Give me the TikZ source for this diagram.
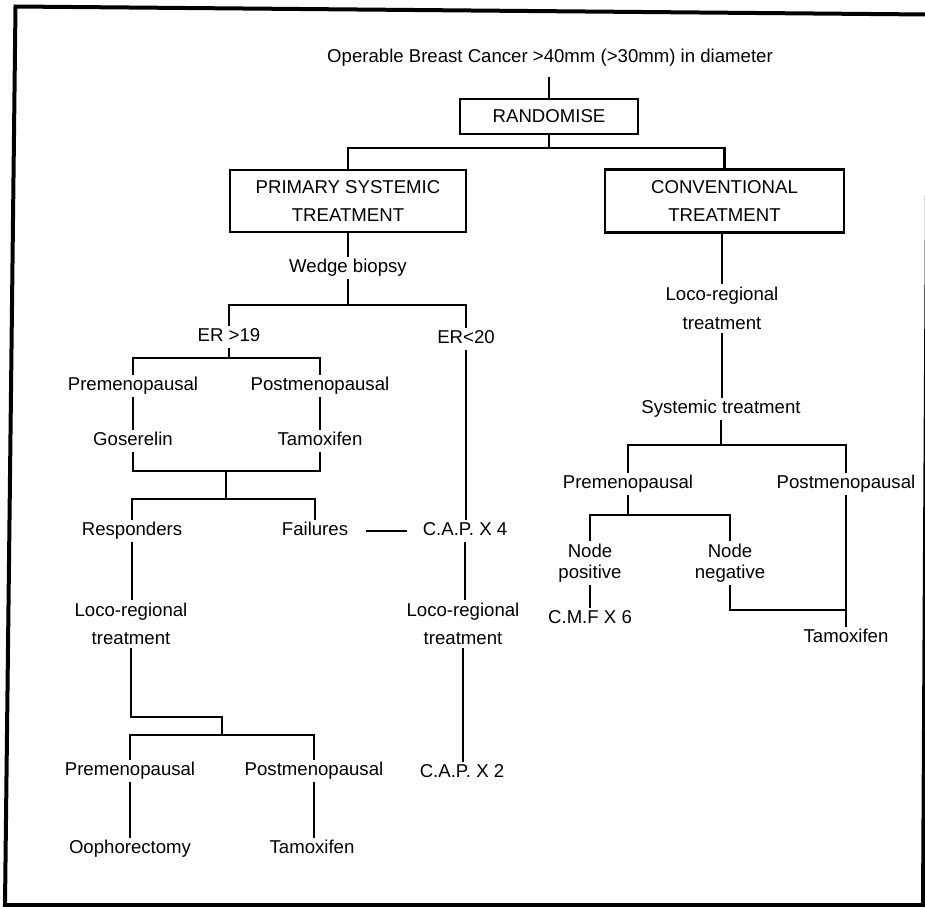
\documentclass[tikz,border=0pt]{standalone}
\usepackage{fontspec}
\setmainfont{Liberation Sans}
\usetikzlibrary{positioning}
\newcommand\chartfont{\fontsize{18.6pt}{28.5pt}\selectfont}
\newcommand\tightfont{\fontsize{18.6pt}{21pt}\selectfont}
\tikzset{
  lbl/.style={font=\chartfont,inner xsep=2pt,inner ysep=3.5pt,text height=13.5pt,text depth=4pt},
  lbltwo/.style={font=\chartfont,inner xsep=2pt,inner ysep=4pt,align=center},
  boxed/.style={font=\chartfont,draw,line width=2.2pt,align=center,inner sep=2pt},
  conn/.style={line width=2.2pt}
}
\begin{document}
\begin{tikzpicture}[x=1pt,y=-1pt,line cap=rect]
    \useasboundingbox (0,0) rectangle (925,906);
    \begin{scope}
        \clip (0,0) rectangle (925,906);
        \draw[line width=4pt,line join=miter] (15.5,6.5) -- (928,14.5) -- (923,905) -- (5,905) -- cycle;
    \end{scope}

    \node[lbl] (title) at (550,58) {Operable Breast Cancer >40mm (>30mm) in diameter};
    \node[boxed,minimum width=178pt,minimum height=35pt] (rand) at (549,116.5) {RANDOMISE};
    \node[boxed,minimum width=236pt,minimum height=62pt] (pst) at (348,201) {PRIMARY SYSTEMIC\\TREATMENT};
    \node[boxed,minimum width=239pt,minimum height=63pt] (conv) at (724.5,201) {CONVENTIONAL\\TREATMENT};

    \node[lbl] (wedge) at (348,268) {Wedge biopsy};
    \node[lbl] (er19) at (229,337) {ER >19};
    \node[lbl] (er20) at (466,339) {ER<20};
    \node[lbl] (pre1) at (133,386) {Premenopausal};
    \node[lbl] (post1) at (320,386) {Postmenopausal};
    \node[lbl] (gos) at (133,441) {Goserelin};
    \node[lbl] (tam1) at (320,441) {Tamoxifen};
    \node[lbl] (resp) at (132,531) {Responders};
    \node[lbl] (fail) at (315,531) {Failures};
    \node[lbl] (cap4) at (465,531) {C.A.P. X 4};
    \node[lbltwo] (loco1) at (131,624) {Loco-regional\\treatment};
    \node[lbltwo] (loco2) at (463,624) {Loco-regional\\treatment};
    \node[lbl] (cap2) at (462,773) {C.A.P. X 2};
    \node[lbl] (pre2) at (130,771) {Premenopausal};
    \node[lbl] (post2) at (314,771) {Postmenopausal};
    \node[lbl] (ooph) at (130,849) {Oophorectomy};
    \node[lbl] (tam2) at (312,849) {Tamoxifen};

    \node[lbltwo] (loco3) at (722,308.5) {Loco-regional\\treatment};
    \node[lbl] (syst) at (721,409) {Systemic treatment};
    \node[lbl] (pre3) at (628,484) {Premenopausal};
    \node[lbl] (post3) at (846,484) {Postmenopausal};
    \node[lbltwo,font=\tightfont] (npos) at (590,563) {Node\\positive};
    \node[lbltwo,font=\tightfont] (nneg) at (730,563) {Node\\negative};
    \node[lbl] (cmf) at (590,619) {C.M.F X 6};
    \node[lbl] (tam3) at (846,638) {Tamoxifen};

    \coordinate (jr) at (549,148);
    \coordinate (jw) at (348,305);
    \coordinate (je) at (229,358);
    \coordinate (jg) at (226,471);
    \coordinate (jf) at (226,499);
    \coordinate (jl) at (222,717);
    \coordinate (jm) at (222,735);
    \coordinate (js) at (721,445);
    \coordinate (jp) at (628,515);
    \coordinate (jn) at (846,610);

    \draw[conn,shorten <=8pt] (rand.north |- title.south) -- (rand.north);
    \draw[conn] (rand.south) -- (jr);
    \draw[conn] (pst.north) |- (jr) -| (conv.north);
    \draw[conn] (pst.south) -- (wedge.north);
    \draw[conn] (wedge.south) -- (jw);
    \draw[conn] (er19.north) |- (jw) -| (er20.north);
    \draw[conn] (er19.south) -- (je);
    \draw[conn] (pre1.north) |- (je) -| (post1.north);
    \draw[conn] (pre1.south) -- (gos.north);
    \draw[conn] (post1.south) -- (tam1.north);
    \draw[conn] (gos.south) |- (jg) -| (tam1.south);
    \draw[conn] (jg) -- (jf);
    \draw[conn] (resp.north) |- (jf) -| (fail.north);
    \draw[conn,shorten <=17pt,shorten >=15pt] (fail.east) -- (cap4.west);
    \draw[conn] (er20.south) -- (er20.south |- cap4.north);
    \draw[conn] (resp.south) -- (resp.south |- loco1.north);
    \draw[conn] (cap4.south) -- (cap4.south |- loco2.north);
    \draw[conn] (loco1.south) |- (jl) -- (jm);
    \draw[conn] (pre2.north) |- (jm) -| (post2.north);
    \draw[conn] (loco2.south) -- (loco2.south |- cap2.north);
    \draw[conn] (pre2.south) -- (pre2.south |- ooph.north);
    \draw[conn] (post2.south) -- (post2.south |- tam2.north);

    \draw[conn] (loco3.north |- conv.south) -- (loco3.north);
    \draw[conn] (loco3.south) -- (loco3.south |- syst.north);
    \draw[conn] (syst.south) -- (js);
    \draw[conn] (pre3.north) |- (js) -| (post3.north);
    \draw[conn] (pre3.south) -- (jp);
    \draw[conn] (npos.north) |- (jp) -| (nneg.north);
    \draw[conn] (npos.south) -- (cmf.north);
    \draw[conn] (post3.south) -- (tam3.north);
    \draw[conn] (nneg.south) |- (jn);
\end{tikzpicture}
\end{document}
